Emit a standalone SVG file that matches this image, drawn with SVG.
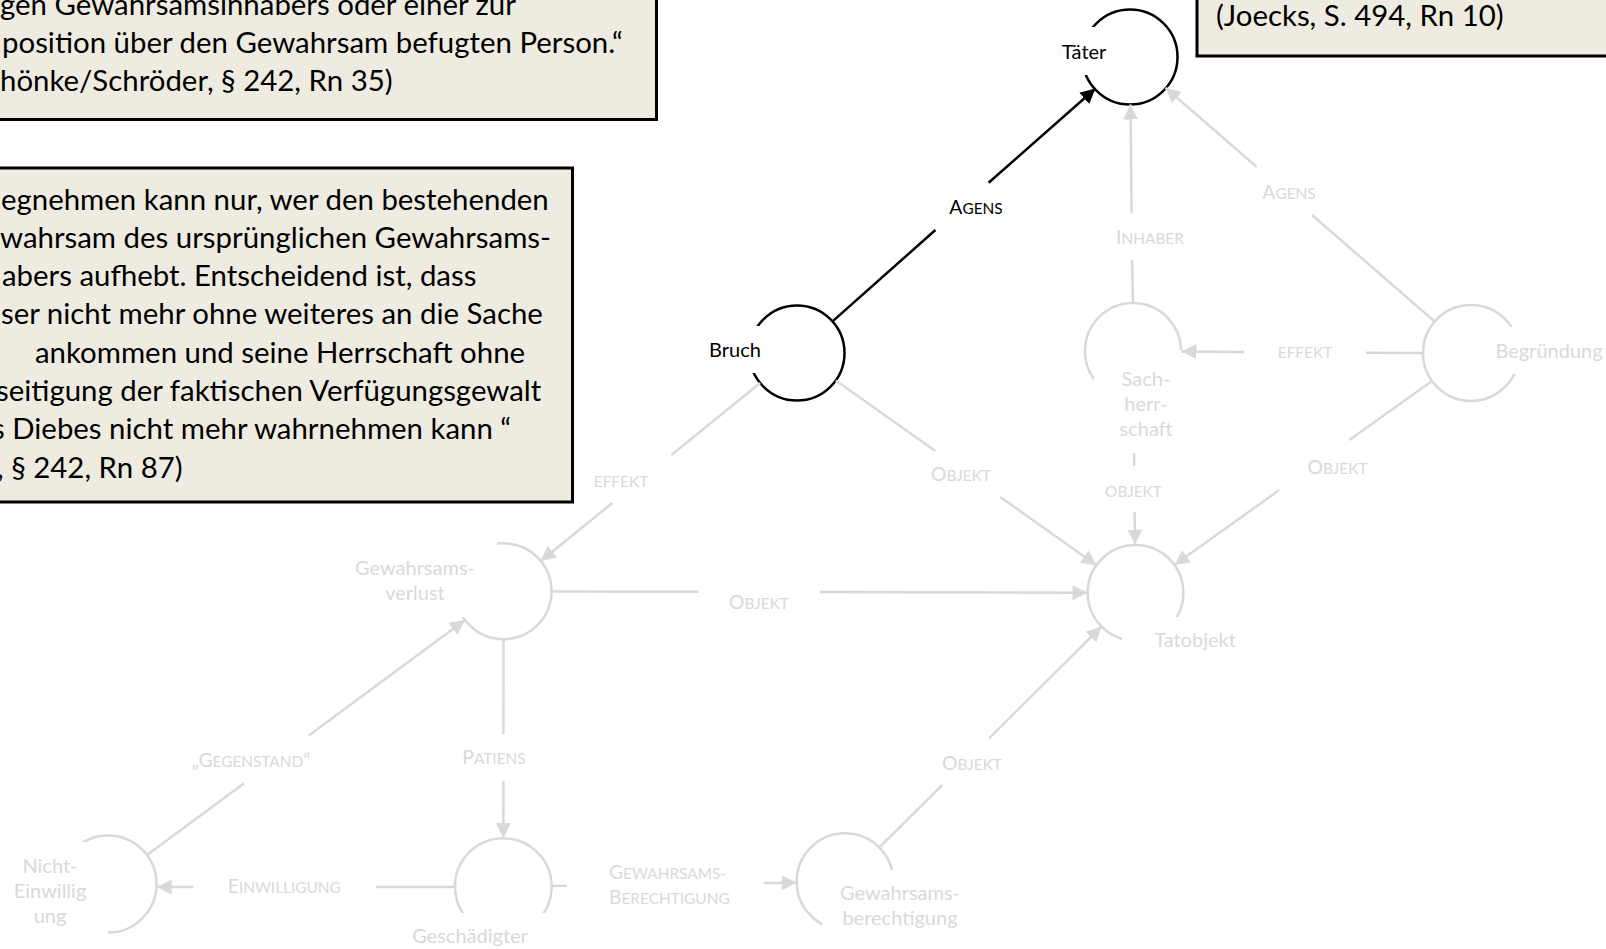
<svg xmlns="http://www.w3.org/2000/svg" width="1606" height="949" viewBox="0 0 1606 949">
<defs>
<marker id="ag" markerUnits="userSpaceOnUse" markerWidth="16" markerHeight="16" viewBox="0 0 16 16" refX="15" refY="8" orient="auto"><path d="M0,0.5 L15,8 L0,15.5 z" fill="#D9D9D9"/></marker>
<marker id="ab" markerUnits="userSpaceOnUse" markerWidth="16" markerHeight="16" viewBox="0 0 16 16" refX="15" refY="8" orient="auto"><path d="M0,0.5 L15,8 L0,15.5 z" fill="#000"/></marker>
</defs>
<style>
.box{fill:#EEECE1;stroke:#000;stroke-width:3}
.bt{font-family:Lato,"Liberation Sans",sans-serif;font-size:29.4px;fill:#000}
.ring{fill:none;stroke:#D9D9D9;stroke-width:2.5}
.ring.k{stroke:#000}
.mask{fill:#fff}
.nl{font-family:Lato,"Liberation Sans",sans-serif;font-size:20px;fill:#D9D9D9;text-anchor:middle}
.nl.k{fill:#000}
.e{fill:none;stroke:#D9D9D9;stroke-width:2.5;marker-end:url(#ag)}
.e.k{stroke:#000;marker-end:url(#ab)}
.el{font-family:Lato,"Liberation Sans",sans-serif;font-size:19.3px;fill:#D9D9D9;text-anchor:middle}
.el.k{fill:#000}
.el.s{text-anchor:start}
.sc{font-size:15.4px}
</style>
<rect width="1606" height="949" fill="#fff"/>

<g id="box-schoenke">
<rect class="box" x="-5" y="-5" width="661.5" height="124.5"/>
<text class="bt" x="0" y="14.5">gen Gewahrsamsinhabers oder einer zur</text>
<text class="bt" x="2" y="52.5">position über den Gewahrsam befugten Person.“</text>
<text class="bt" x="0" y="90.5">hönke/Schröder, § 242, Rn 35)</text>
</g>

<g id="box-wegnehmen">
<rect class="box" x="-5" y="168" width="577.5" height="334"/>
<text class="bt" x="1" y="209.5">egnehmen kann nur, wer den bestehenden</text>
<text class="bt" x="0" y="247.8">wahrsam des ursprünglichen Gewahrsams-</text>
<text class="bt" x="2" y="286.1">abers aufhebt. Entscheidend ist, dass</text>
<text class="bt" x="1" y="324.4">ser nicht mehr ohne weiteres an die Sache</text>
<text class="bt" x="35" y="362.7">ankommen und seine Herrschaft ohne</text>
<text class="bt" x="-4" y="401">seitigung der faktischen Verfügungsgewalt</text>
<text class="bt" x="-8" y="439.3">s Diebes nicht mehr wahrnehmen kann “</text>
<text class="bt" x="-3" y="477.6">, § 242, Rn 87)</text>
</g>

<g id="box-joecks">
<rect class="box" x="1197" y="-10" width="420" height="66"/>
<text class="bt" x="1216" y="26">(Joecks, S. 494, Rn 10)</text>
</g>

<g id="n-taeter">
<circle class="ring k" cx="1130" cy="57" r="47.5"/>
<rect class="mask" x="1040" y="27" width="70" height="48"/>
<text class="nl k" x="1084" y="58.5">Täter</text>
</g>
<g id="n-bruch">
<circle class="ring k" cx="797" cy="353" r="47.5"/>
<rect class="mask" x="688" y="326" width="94" height="47"/>
<text class="nl k" x="735" y="357">Bruch</text>
</g>
<g id="n-sachherrschaft">
<circle class="ring" cx="1133" cy="351" r="48"/>
<rect class="mask" x="1094" y="350" width="94" height="103"/>
<text class="nl" x="1146" y="386">Sach-</text>
<text class="nl" x="1146" y="411">herr-</text>
<text class="nl" x="1146" y="436">schaft</text>
</g>
<g id="n-begruendung">
<circle class="ring" cx="1471" cy="353" r="48"/>
<rect class="mask" x="1490" y="327" width="120" height="47"/>
<text class="nl" x="1549" y="358">Begründung</text>
</g>
<g id="n-gewahrsamsverlust">
<circle class="ring" cx="503.5" cy="591.3" r="48"/>
<rect class="mask" x="333" y="540" width="164" height="77"/>
<text class="nl" x="415" y="574.5">Gewahrsams-</text>
<text class="nl" x="415" y="599.5">verlust</text>
</g>
<g id="n-tatobjekt">
<circle class="ring" cx="1135.5" cy="592.8" r="47.8"/>
<rect class="mask" x="1122" y="617" width="146" height="48"/>
<text class="nl" x="1195" y="647">Tatobjekt</text>
</g>
<g id="n-geschaedigter">
<circle class="ring" cx="503.3" cy="886.6" r="48.3"/>
<rect class="mask" x="396" y="913" width="150" height="48"/>
<text class="nl" x="470" y="943">Geschädigter</text>
</g>
<g id="n-nichteinwilligung">
<circle class="ring" cx="108" cy="884" r="48.5"/>
<rect class="mask" x="-10" y="842" width="118" height="100"/>
<text class="nl" x="50" y="873">Nicht-</text>
<text class="nl" x="50" y="898">Einwillig</text>
<text class="nl" x="50" y="923">ung</text>
</g>
<g id="n-gewahrsamsberechtigung">
<circle class="ring" cx="845" cy="881.6" r="48.3"/>
<rect class="mask" x="822" y="870" width="156" height="75"/>
<text class="nl" x="900" y="900">Gewahrsams-</text>
<text class="nl" x="900" y="925">berechtigung</text>
</g>

<g id="connectors">
<path class="e k" d="M832.5,321.4 L935.4,230 M988.6,182.7 L1095.5,88.5"/>
<text class="el k" x="976" y="214.3">A<tspan class="sc">GENS</tspan></text>

<path class="e" d="M1133,303 L1132.1,260 M1131.6,213.3 L1130.5,104.5"/>
<text class="el" x="1150" y="244.3">I<tspan class="sc">NHABER</tspan></text>

<path class="e" d="M1434.8,321.6 L1312,215 M1256.8,167 L1165.5,87.8"/>
<text class="el" x="1289" y="199">A<tspan class="sc">GENS</tspan></text>

<path class="e" d="M1423,353 L1366,352.7 M1244,352 L1181.5,351.5"/>
<text class="el sc" x="1305" y="357.5">EFFEKT</text>

<path class="e" d="M1432,381 L1349.3,440 M1279.3,490 L1174.4,565"/>
<text class="el" x="1337.5" y="473.5">O<tspan class="sc">BJEKT</tspan></text>

<path class="e" d="M760.1,383 L671.4,455 M612.3,503 L540.8,561"/>
<text class="el sc" x="621" y="486.5">EFFEKT</text>

<path class="e" d="M835.8,380.5 L935.3,451 M1000.3,497 L1096.5,565.2"/>
<text class="el" x="961" y="481">O<tspan class="sc">BJEKT</tspan></text>

<path class="e" d="M1134,453 L1134.2,466 M1134.7,512 L1135,544.5"/>
<text class="el sc" x="1133.5" y="496.5">OBJEKT</text>

<path class="e" d="M551.5,591.5 L698.3,591.8 M820,592 L1087.5,592.7"/>
<text class="el" x="759" y="609">O<tspan class="sc">BJEKT</tspan></text>

<path class="e" d="M503.5,639.3 L503.4,734 M503.4,781 L503.3,838"/>
<text class="el" x="494" y="763.5">P<tspan class="sc">ATIENS</tspan></text>

<path class="e" d="M147,855 L243.8,783.5 M308.8,735.4 L465,620"/>
<text class="el" x="251" y="766.5">„G<tspan class="sc">EGENSTAND</tspan>“</text>

<path class="e" d="M455,887 L376,887 M193.3,887 L156.6,887"/>
<text class="el" x="284.3" y="893.3">E<tspan class="sc">INWILLIGUNG</tspan></text>

<path class="e" d="M551.7,885.9 L566.7,885.7 M764,883 L796.7,882.7"/>
<text class="el s" x="609" y="879">G<tspan class="sc">EWAHRSAMS-</tspan></text>
<text class="el s" x="609" y="904">B<tspan class="sc">ERECHTIGUNG</tspan></text>

<path class="e" d="M879.3,847.5 L942.2,785 M989,738.3 L1101.6,626.5"/>
<text class="el" x="972" y="769.5">O<tspan class="sc">BJEKT</tspan></text>
</g>
</svg>
